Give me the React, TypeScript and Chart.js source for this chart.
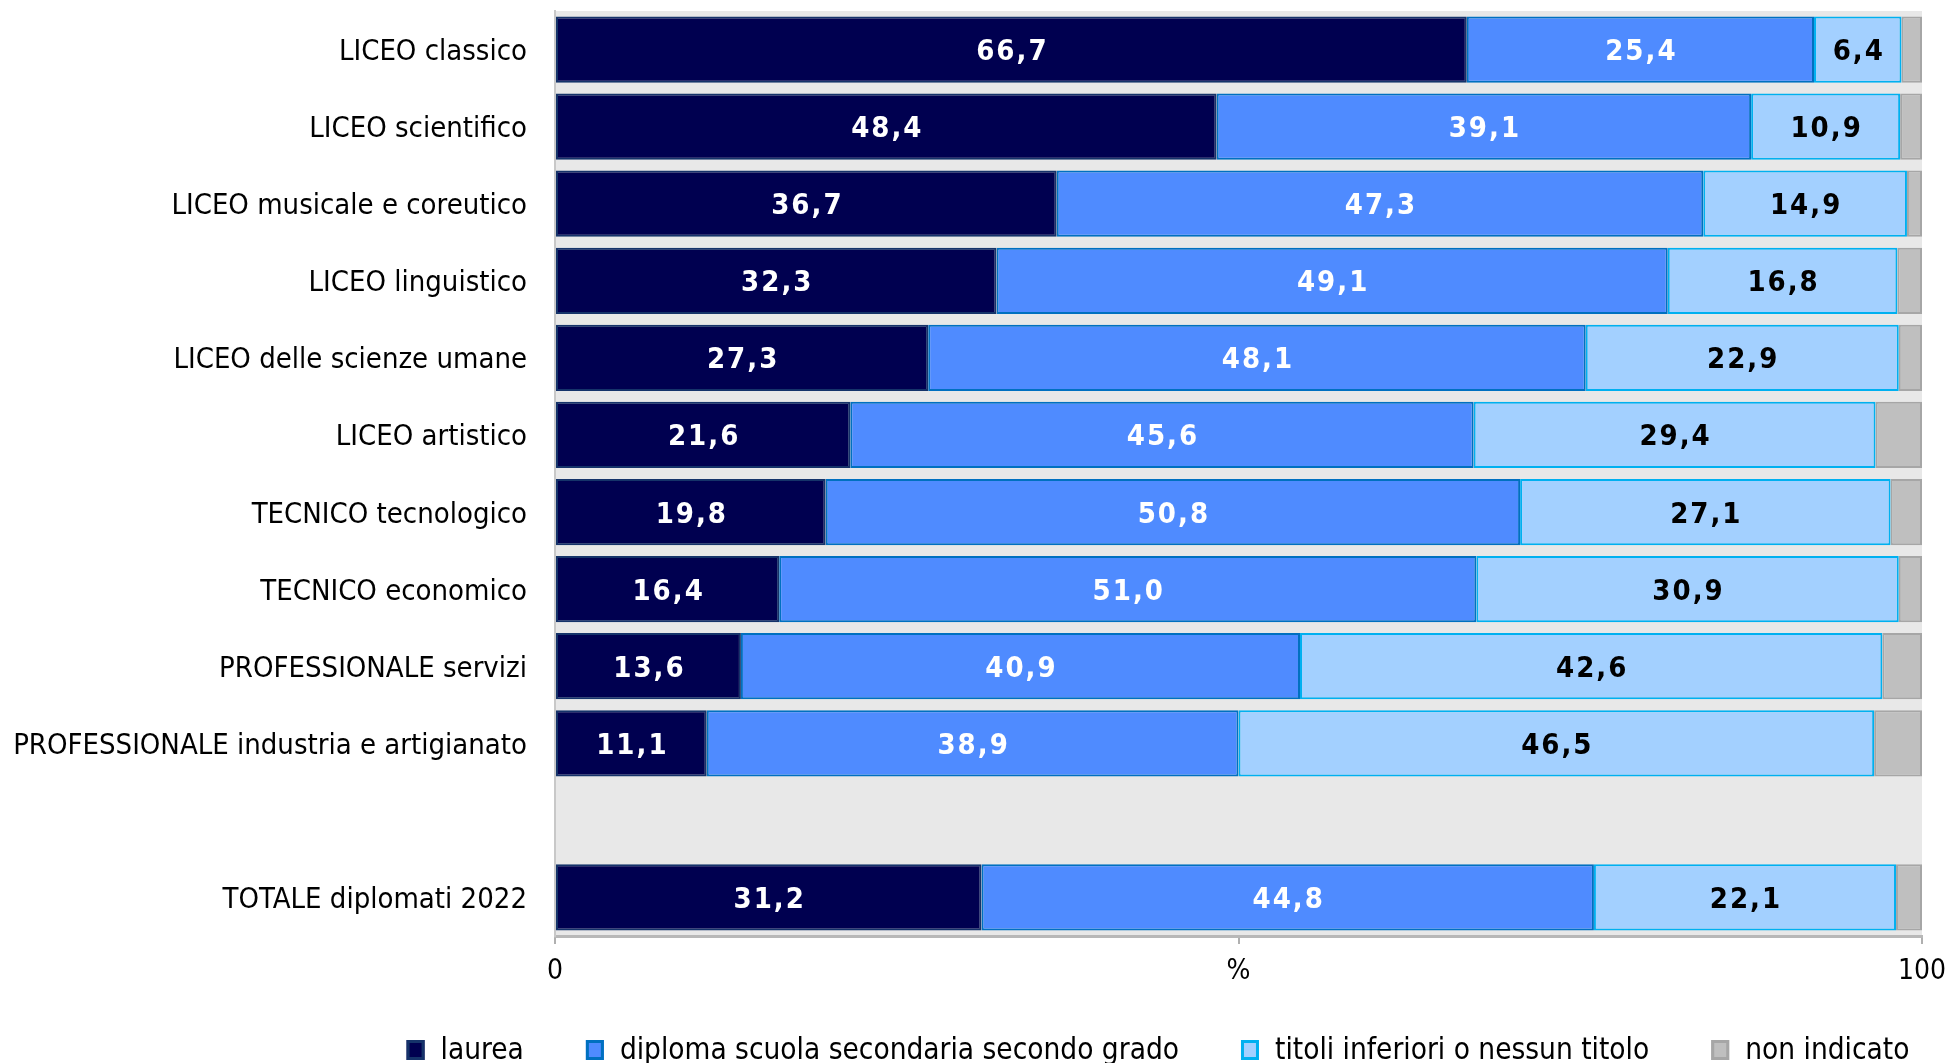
import React, { useEffect, useRef } from "react";
import { Chart, registerables } from "chart.js";

Chart.register(...registerables);

const categories = [
  "LICEO classico",
  "LICEO scientifico",
  "LICEO musicale e coreutico",
  "LICEO linguistico",
  "LICEO delle scienze umane",
  "LICEO artistico",
  "TECNICO tecnologico",
  "TECNICO economico",
  "PROFESSIONALE servizi",
  "PROFESSIONALE industria e artigianato",
  "",
  "TOTALE diplomati 2022",
];

const laurea = [66.7, 48.4, 36.7, 32.3, 27.3, 21.6, 19.8, 16.4, 13.6, 11.1, null, 31.2];
const diploma = [25.4, 39.1, 47.3, 49.1, 48.1, 45.6, 50.8, 51.0, 40.9, 38.9, null, 44.8];
const titoli = [6.4, 10.9, 14.9, 16.8, 22.9, 29.4, 27.1, 30.9, 42.6, 46.5, null, 22.1];
const nonIndicato = [1.5, 1.6, 1.1, 1.8, 1.7, 3.4, 2.3, 1.7, 2.9, 3.5, null, 1.9];

const seriesNames = [
  "laurea",
  "diploma scuola secondaria secondo grado",
  "titoli inferiori o nessun titolo",
  "non indicato",
];

const xTicks = [0, 50, 100];
const xTickLabels = ["0", "%", "100"];

const FONT = "'DejaVu Sans Condensed', 'DejaVu Sans', sans-serif";

const fills = ["#000050", "#4F8BFF", "#A3D0FF", "#BFBFBF"];
const borders = ["#15336A", "#0070C0", "#00B0F0", "#A6A6A6"];
const labelColors = ["#FFFFFF", "#FFFFFF", "#000000", null];

const bgPlugin = {
  id: "plotBg",
  beforeDraw(chart: any) {
    const { ctx, chartArea } = chart;
    ctx.save();
    ctx.fillStyle = "#E8E8E8";
    ctx.fillRect(chartArea.left, chartArea.top, chartArea.right - chartArea.left, chartArea.bottom - chartArea.top);
    ctx.restore();
  },
};

const valueLabelPlugin = {
  id: "valueLabels",
  afterDatasetsDraw(chart: any) {
    const { ctx } = chart;
    ctx.save();
    ctx.font = `bold 29px ${FONT}`;
    (ctx as any).letterSpacing = "2px";
    ctx.textAlign = "center";
    ctx.textBaseline = "middle";
    chart.data.datasets.forEach((ds: any, di: number) => {
      const color = labelColors[di];
      if (!color) return;
      const meta = chart.getDatasetMeta(di);
      meta.data.forEach((el: any, i: number) => {
        const v = ds.data[i];
        if (v === null || v === undefined) return;
        const cx = (el.x + el.base) / 2 + 1;
        ctx.fillStyle = color;
        ctx.fillText(v.toFixed(1).replace(".", ","), cx, el.y + 3);
      });
    });
    ctx.restore();
  },
};

const legendPlugin = {
  id: "customLegend",
  afterDraw(chart: any) {
    const { ctx } = chart;
    ctx.save();
    ctx.font = `29.5px ${FONT}`;
    const boxW = 18;
    const boxH = 20;
    const boxGap = 16;
    const itemGap = 62;
    const widths = seriesNames.map((n) => ctx.measureText(n).width);
    const total = widths.reduce((a, w) => a + boxW + boxGap + w, 0) + itemGap * (seriesNames.length - 1);
    let x = 1158 - total / 2;
    const cy = 1050;
    seriesNames.forEach((n, i) => {
      ctx.fillStyle = fills[i];
      ctx.fillRect(x, cy - boxH / 2, boxW, boxH);
      ctx.strokeStyle = borders[i];
      ctx.lineWidth = 3;
      ctx.strokeRect(x + 1.5, cy - boxH / 2 + 1.5, boxW - 3, boxH - 3);
      ctx.fillStyle = "#000000";
      ctx.textAlign = "left";
      ctx.textBaseline = "middle";
      ctx.fillText(n, x + boxW + boxGap, cy + 1);
      x += boxW + boxGap + widths[i] + itemGap;
    });
    ctx.restore();
  },
};

export default function App() {
  const ref = useRef<HTMLCanvasElement | null>(null);

  useEffect(() => {
    if (!ref.current) return;
    const series = [laurea, diploma, titoli, nonIndicato];
    const chart = new Chart(ref.current, {
      type: "bar",
      data: {
        labels: categories,
        datasets: series.map((d, i) => ({
          label: seriesNames[i],
          data: d,
          backgroundColor: fills[i],
          borderColor: borders[i],
          borderWidth: 2,
          borderSkipped: false,
          barPercentage: 0.86,
          categoryPercentage: 1,
        })),
      },
      options: {
        indexAxis: "y",
        responsive: false,
        animation: false,
        layout: { padding: { top: 11, right: 24, left: 0, bottom: 77 } },
        plugins: {
          legend: { display: false },
          tooltip: { enabled: false },
        },
        scales: {
          x: {
            stacked: true,
            min: 0,
            max: 100,
            afterBuildTicks: (scale: any) => {
              scale.ticks = xTicks.map((v) => ({ value: v }));
            },
            afterFit: (scale: any) => {
              scale.height = 50;
              scale.paddingRight = 0;
              scale.paddingLeft = 0;
            },
            ticks: {
              autoSkip: false,
              maxRotation: 0,
              padding: 11,
              color: "#000000",
              font: { family: FONT, size: 28 },
              callback: (v: any) => xTickLabels[xTicks.indexOf(Number(v))] ?? "",
            },
            grid: {
              display: true,
              drawOnChartArea: false,
              drawTicks: true,
              tickLength: 8,
              color: "#B0B0B0",
              lineWidth: 2,
            },
            border: { display: true, color: "#B8B8B8", width: 3 },
          },
          y: {
            stacked: true,
            afterFit: (scale: any) => {
              scale.width = 555;
              scale.paddingTop = 0;
              scale.paddingBottom = 0;
            },
            ticks: {
              autoSkip: false,
              padding: 0,
              labelOffset: 3,
              color: "#000000",
              font: { family: FONT, size: 29 },
            },
            grid: {
              display: true,
              drawOnChartArea: false,
              drawTicks: true,
              tickLength: 28,
              color: "rgba(0,0,0,0)",
            },
            border: { display: true, color: "#C8C8C8", width: 2 },
          },
        },
      },
      plugins: [bgPlugin, valueLabelPlugin, legendPlugin],
    } as any);
    return () => chart.destroy();
  }, []);

  return (
    <div style={{ position: "fixed", left: 0, top: 0, width: 1946, height: 1063, background: "#fff" }}>
      <canvas ref={ref} width={1946} height={1063} style={{ display: "block" }} />
    </div>
  );
}
